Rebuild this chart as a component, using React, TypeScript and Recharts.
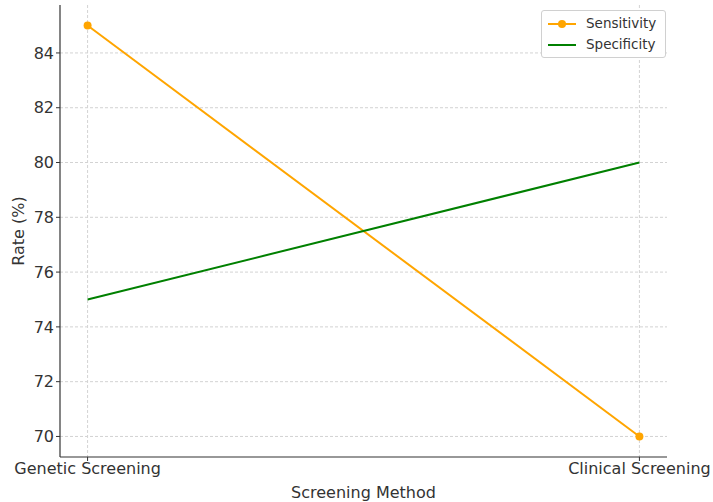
import * as React from "react";
import { LineChart, Line, XAxis, YAxis, CartesianGrid } from "recharts";

const methods = ["Genetic Screening", "Clinical Screening"];
const sensitivity = [85, 70];
const specificity = [75, 80];
const yTicks = [70, 72, 74, 76, 78, 80, 82, 84];

const data = methods.map((m, i) => ({
  x: i,
  method: m,
  sensitivity: sensitivity[i],
  specificity: specificity[i],
}));

const FONT = "DejaVu Sans, sans-serif";

const LegendBox = () => (
  <div
    style={{
      position: "absolute",
      left: 541,
      top: 10,
      width: 118,
      background: "white",
      border: "1px solid #d0d0d0",
      borderRadius: 3,
      padding: "2px 0 2px 5px",
      fontFamily: FONT,
      fontSize: 13.5,
      color: "#333",
      lineHeight: "21px",
    }}
  >
    <div style={{ display: "flex", alignItems: "center" }}>
      <svg width={30} height={10} style={{ marginRight: 9 }}>
        <line x1={1} y1={5} x2={29} y2={5} stroke="#FFA500" strokeWidth={2} />
        <circle cx={15} cy={5} r={4} fill="#FFA500" />
      </svg>
      Sensitivity
    </div>
    <div style={{ display: "flex", alignItems: "center" }}>
      <svg width={30} height={10} style={{ marginRight: 9 }}>
        <line x1={1} y1={5} x2={29} y2={5} stroke="#008000" strokeWidth={2} />
      </svg>
      Specificity
    </div>
  </div>
);

const App = () => (
  <div style={{ position: "absolute", left: 0, top: 0, width: 713, height: 502, background: "white" }}>
    <LineChart
      width={713}
      height={502}
      data={data}
      margin={{ top: 5, right: 46, left: 0, bottom: 0 }}
    >
      <CartesianGrid
        stroke="#d3d3d3"
        strokeDasharray="3 2"
        horizontalValues={yTicks}
        verticalValues={[0, 1]}
      />
      <XAxis
        dataKey="x"
        type="number"
        domain={[-0.05, 1.05]}
        ticks={[0, 1]}
        tickFormatter={(v: number) => methods[v]}
        height={45}
        stroke="#333"
        tickSize={4}
        tick={{ fill: "#333", fontSize: 16, fontFamily: FONT }}
        label={{ value: "Screening Method", position: "insideBottom", offset: 4, fill: "#333", fontSize: 16, fontFamily: FONT }}
        axisLine={{ stroke: "#333", strokeWidth: 1.2 }}
      />
      <YAxis
        type="number"
        domain={[69.25, 85.75]}
        ticks={yTicks}
        width={60}
        tickSize={4}
        stroke="#333"
        tick={{ fill: "#333", fontSize: 16, fontFamily: FONT }}
        axisLine={{ stroke: "#333", strokeWidth: 1.2 }}
        label={{ value: "Rate (%)", angle: -90, position: "insideLeft", offset: 18, fill: "#333", fontSize: 16, fontFamily: FONT, style: { textAnchor: "middle" } }}
      />
      <Line
        dataKey="sensitivity"
        name="Sensitivity"
        stroke="#FFA500"
        strokeWidth={2}
        dot={{ r: 4, fill: "#FFA500", stroke: "#FFA500", strokeWidth: 0 }}
        isAnimationActive={false}
      />
      <Line
        dataKey="specificity"
        name="Specificity"
        stroke="#008000"
        strokeWidth={2}
        dot={false}
        isAnimationActive={false}
      />
    </LineChart>
    <LegendBox />
  </div>
);

export default App;
